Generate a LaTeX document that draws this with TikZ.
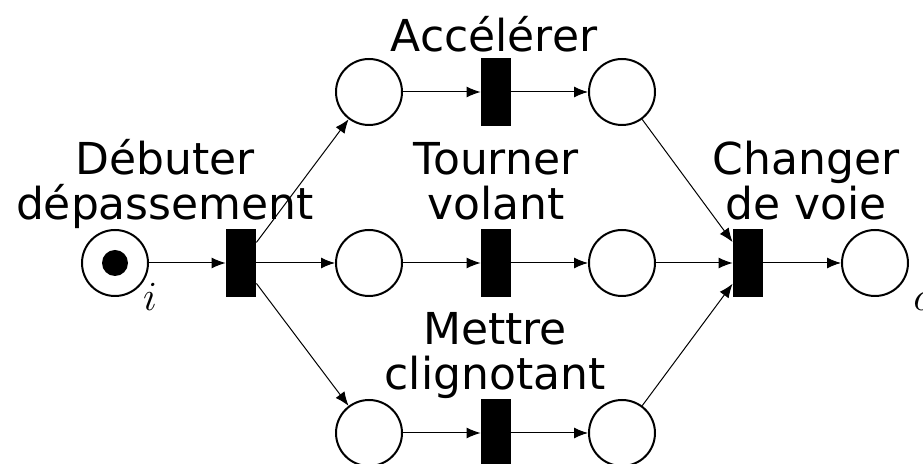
\documentclass[tikz,border=0pt]{standalone}
\usepackage{fontspec}
\setmainfont{DejaVu Sans}
\usetikzlibrary{arrows.meta}
\begin{document}
\begin{tikzpicture}[x = 0.5pt, y = -0.5pt,
  place/.style = {circle, draw, line width = 1pt, minimum size = 33pt, inner sep = 0pt},
  trans/.style = {rectangle, fill = black, minimum width = 15pt, minimum height = 34pt, inner sep = 0pt},
  token/.style = {circle, fill = black, minimum size = 13pt, inner sep = 0pt},
  arc/.style = {line width = .5pt, -{Latex[length = 7pt, width = 5.5pt]}},
  lbl/.style = {font = \fontsize{22pt}{22.5pt}\selectfont, align = center, anchor = base, inner sep = 0pt}]
\useasboundingbox (0,0) rectangle (923,464);
% places
\node[place] (pi) at (115,263) {};
\node[token] (tok) at (115,263) {};
\node[place] (pa1) at (369,92) {};
\node[place] (pa2) at (622,92) {};
\node[place] (pt1) at (369,263) {};
\node[place] (pt2) at (622,263) {};
\node[place] (pm1) at (369,433) {};
\node[place] (pm2) at (622,433) {};
\node[place] (po) at (875,263) {};
% transitions
\node[trans] (tdeb) at (241,263) {};
\node[trans] (tacc) at (496,92) {};
\node[trans] (ttou) at (496,263) {};
\node[trans] (tmet) at (496,433) {};
\node[trans] (tcha) at (748,263) {};
% labels
\node[lbl] (ldeb) at (165,220) {Débuter\\dépassement};
\node[lbl] (lacc) at (494,52) {Accélérer};
\node[lbl] (ltou) at (496,220) {Tourner\\volant};
\node[lbl] (lmet) at (495,390) {Mettre\\clignotant};
\node[lbl] (lcha) at (806,220) {Changer\\de voie};
\node[anchor = base, font = \fontsize{22pt}{22pt}\selectfont, inner sep = 0pt] (li) at (150,311) {$i$};
\node[anchor = base west, font = \fontsize{22pt}{22pt}\selectfont, inner sep = 0pt] (lo) at (913,311) {$o$};
% arcs
\draw[arc] (pi) -- (tdeb);
\draw[arc] (tdeb) -- (pa1);
\draw[arc] (tdeb) -- (pt1);
\draw[arc] (tdeb) -- (pm1);
\draw[arc] (pa1) -- (tacc);
\draw[arc] (tacc) -- (pa2);
\draw[arc] (pt1) -- (ttou);
\draw[arc] (ttou) -- (pt2);
\draw[arc] (pm1) -- (tmet);
\draw[arc] (tmet) -- (pm2);
\draw[arc] (pa2) -- (tcha);
\draw[arc] (pt2) -- (tcha);
\draw[arc] (pm2) -- (tcha);
\draw[arc] (tcha) -- (po);
\end{tikzpicture}
\end{document}
